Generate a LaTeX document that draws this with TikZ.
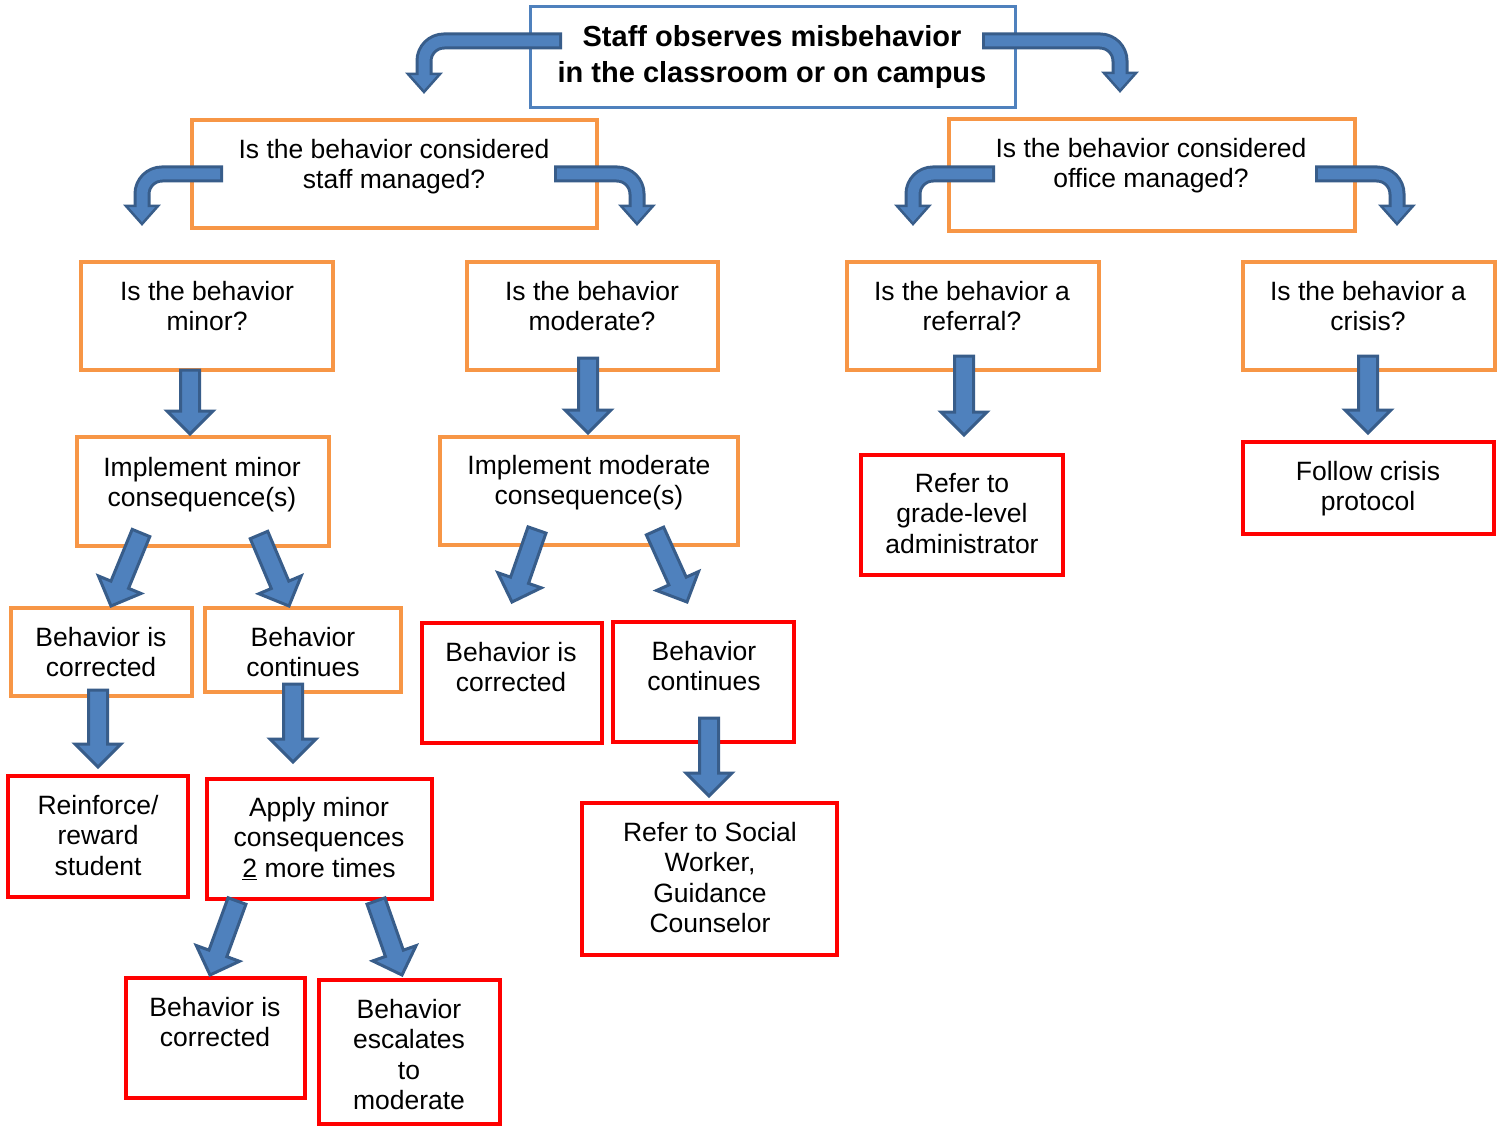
\documentclass[tikz,border=0pt]{standalone}
\usepackage{fontspec}
\setmainfont{Liberation Sans}
\usetikzlibrary{calc}
\definecolor{afill}{HTML}{4F81BD}
\definecolor{aline}{HTML}{385D8A}
\definecolor{obox}{HTML}{F79646}
\definecolor{rbox}{HTML}{FF0000}
\definecolor{bbox}{HTML}{4F81BD}
\tikzset{
  obx/.style={draw=obox, line width=4pt, inner sep=0pt},
  rbx/.style={draw=rbox, line width=4pt, inner sep=0pt},
  bbx/.style={draw=bbox, line width=3pt, inner sep=0pt},
  txt/.style={align=center, inner sep=0pt, anchor=north, font=\fontsize{26.5}{30.5}\selectfont},
  ttl/.style={align=center, inner sep=0pt, anchor=north, font=\fontsize{29}{36}\selectfont\bfseries},
  blockarrow/.style={fill=afill, draw=aline, line width=3pt, line join=miter},
}
% box node: style, name, x1, y1, x2, y2
\newcommand\boxnode[6]{\node[#1, minimum width={(#5-#3)*1pt}, minimum height={(#6-#4)*1pt}] (#2) at ({(#3+#5)/2},{(#4+#6)/2}) {};}
% straight block arrow from #1 to tip #2
\newcommand\barrow[2]{%
  \coordinate (ba) at (#1); \coordinate (bb) at (#2);
  \coordinate (bm) at ($(bb)!23pt!(ba)$);
  \draw[blockarrow] ($(ba)!9.5pt!90:(bb)$) -- ($(bm)!9.5pt!90:(bb)$) -- ($(bm)!23pt!90:(bb)$) -- (bb)
     -- ($(bm)!23pt!-90:(bb)$) -- ($(bm)!9.5pt!-90:(bb)$) -- ($(ba)!9.5pt!-90:(bb)$) -- cycle;
}
% bent arrow: #1 start x, #2 y, #3 vertical x, #4 tip y, #5 light start x
\newcommand\bentarrow[5]{%
  \draw[aline, line width=17pt, rounded corners=20pt] (#1,#2) -- (#3,#2) -- (#3,#4-17);
  \draw[blockarrow, line width=2.5pt] (#3-16,#4-18) -- (#3+16,#4-18) -- (#3,#4) -- cycle;
  \draw[afill, line width=11pt, rounded corners=20pt] (#5,#2) -- (#3,#2) -- (#3,#4-14);
}
\begin{document}
\begin{tikzpicture}[x=1pt, y=-1pt]
\useasboundingbox[fill=white] (0,0) rectangle (1502,1126);
% boxes
\boxnode{bbx}{top}{530}{7}{1015}{108}
\boxnode{obx}{staff}{192}{120}{597}{228}
\boxnode{obx}{office}{949}{119}{1355}{231}
\boxnode{obx}{minor}{81}{262}{333}{370}
\boxnode{obx}{moderate}{467}{262}{718}{370}
\boxnode{obx}{referral}{847}{262}{1099}{370}
\boxnode{obx}{crisis}{1243}{262}{1495}{370}
\boxnode{obx}{implminor}{77}{437}{329}{546}
\boxnode{obx}{implmod}{440}{437}{738}{545}
\boxnode{rbx}{grade}{861}{455}{1063}{575}
\boxnode{rbx}{protocol}{1243}{442}{1494}{534}
\boxnode{obx}{corr1}{11}{608}{192}{696}
\boxnode{obx}{cont1}{205}{608}{401}{692}
\boxnode{rbx}{corr2}{422}{623}{602}{743}
\boxnode{rbx}{cont2}{613}{622}{794}{742}
\boxnode{rbx}{reinforce}{8}{776}{188}{897}
\boxnode{rbx}{apply}{207}{779}{432}{899}
\boxnode{rbx}{social}{582}{803}{837}{955}
\boxnode{rbx}{corr3}{126}{978}{305}{1098}
\boxnode{rbx}{escal}{319}{980}{500}{1124}
% texts
\node[ttl] (ttop) at (772,25) {Staff observes misbehavior\\in the classroom or on campus};
\node[txt] (tstaff) at (394,139) {Is the behavior considered\\staff managed?};
\node[txt] (toffice) at (1151,138) {Is the behavior considered\\office managed?};
\node[txt] (tminor) at (207,281) {Is the behavior\\minor?};
\node[txt] (tmoderate) at (592,281) {Is the behavior\\moderate?};
\node[txt] (treferral) at (972,281) {Is the behavior a\\referral?};
\node[txt] (tcrisis) at (1368,281) {Is the behavior a\\crisis?};
\node[txt] (timplminor) at (202,457) {Implement minor\\consequence(s)};
\node[txt] (timplmod) at (589,455) {Implement moderate\\consequence(s)};
\node[txt] (tgrade) at (962,473) {Refer to\\grade-level\\administrator};
\node[txt] (tprotocol) at (1368,461) {Follow crisis\\protocol};
\node[txt] (tcorr1) at (101,627) {Behavior is\\corrected};
\node[txt] (tcont1) at (303,627) {Behavior\\continues};
\node[txt] (tcorr2) at (511,642) {Behavior is\\corrected};
\node[txt] (tcont2) at (704,641) {Behavior\\continues};
\node[txt] (treinforce) at (98,795) {Reinforce/\\reward\\student};
\node[txt] (tapply) at (319,797) {Apply minor\\consequences\\\underline{2} more times};
\node[txt] (tsocial) at (710,822) {Refer to Social\\Worker,\\Guidance\\Counselor};
\node[txt] (tcorr3) at (215,997) {Behavior is\\corrected};
\node[txt] (tescal) at (409,999) {Behavior\\escalates\\to\\moderate};
% bent arrows
\bentarrow{562}{41}{424}{92}{559}
\bentarrow{982}{41}{1120}{91}{985}
\bentarrow{223}{174}{142}{224}{220}
\bentarrow{554}{174}{637}{224}{557}
\bentarrow{995}{174}{913}{224}{992}
\bentarrow{1315}{174}{1397}{224}{1318}
% straight arrows
\barrow{190,370}{190,434}
\barrow{588,358}{588,433}
\barrow{964,356}{964,435}
\barrow{1368,356}{1368,433}
\barrow{98,690}{98,767}
\barrow{293,684}{293,762}
\barrow{709,718}{709,796}
\barrow{141,533}{111,606}
\barrow{259,535}{289,606}
\barrow{537,530}{512,602}
\barrow{655,531}{687,602}
\barrow{237,901}{210,975}
\barrow{376,901}{402,975}
\end{tikzpicture}
\end{document}
